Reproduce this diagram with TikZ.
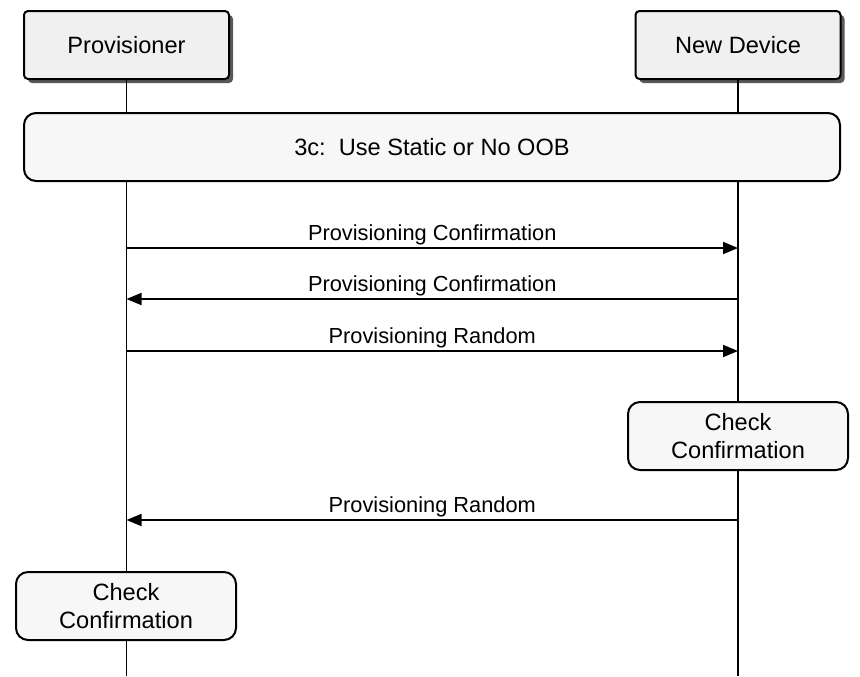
\documentclass[tikz,border=0pt]{standalone}
\usepackage{fontspec}
\setmainfont{Liberation Sans}
\usetikzlibrary{arrows.meta,shadows,positioning}

\begin{document}
\begin{tikzpicture}[x=0.5pt,y=-0.5pt]
\tikzstyle{actor}=[rectangle, draw, line width=1pt, fill=gray!12, rounded corners=2pt,
                   minimum width=102.5pt, minimum height=34pt,
                   font=\fontsize{11.8}{14}\selectfont,
                   drop shadow={shadow xshift=2pt, shadow yshift=-2pt, fill=black!65, opacity=1}]
\tikzstyle{action}=[rectangle, draw, line width=1pt, fill=gray!6, rounded corners=6pt,
                    minimum width=110pt, minimum height=34pt, align=center,
                    font=\fontsize{11.8}{14}\selectfont]
\tikzstyle{lifeline}=[line width=0.9pt]
\tikzstyle{msg}=[-{Triangle[length=7.5pt,width=6pt]}, line width=0.9pt]
\tikzstyle{msglabel}=[above, inner sep=1pt, font=\fontsize{10.9}{13}\selectfont]
\useasboundingbox (0,0) rectangle (860,676);
% actors and lifelines
\node[actor] (prov) at (126.5,45) {Provisioner};
\node[actor] (dev) at (738,45) {New Device};
\coordinate (provend) at (prov |- 0,676);
\coordinate (devend) at (dev |- 0,676);
\draw[lifeline] (prov.south) -- (provend);
\draw[lifeline] (dev.south) -- (devend);
% phase box
\node[action, minimum width=408pt] (phase) at (432,147) {3c:\ \ Use Static or No OOB};
% messages
\foreach \y/\a/\b/\txt in {248/prov/dev/Provisioning Confirmation,
                           299/dev/prov/Provisioning Confirmation,
                           351/prov/dev/Provisioning Random,
                           520/dev/prov/Provisioning Random}
  \draw[msg] (\a |- 0,\y) -- node[msglabel] {\txt} (\b |- 0,\y);
% checks
\node[action] (devcheck) at (738,436) {Check\\Confirmation};
\node[action] (provcheck) at (126,606) {Check\\Confirmation};
\end{tikzpicture}
\end{document}
